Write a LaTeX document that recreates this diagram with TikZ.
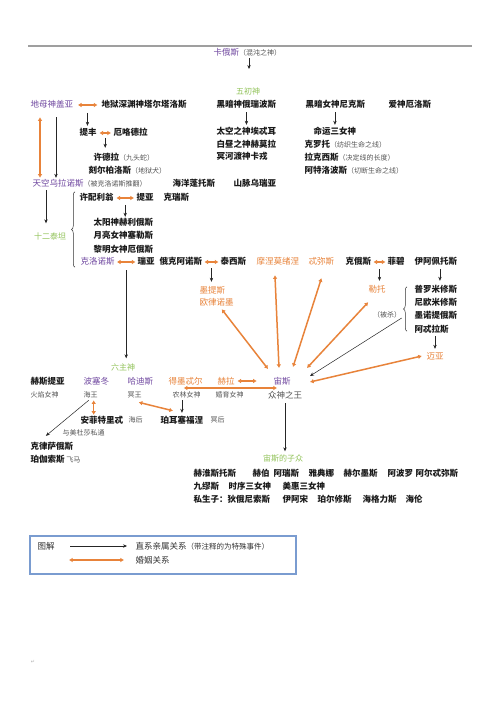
\documentclass[tikz,border=0pt]{standalone}
\usepackage{fontspec}
\setmainfont{Noto Sans CJK SC}
\newfontfamily\symfont{DejaVu Sans}
\usetikzlibrary{arrows.meta,decorations.pathreplacing}
\definecolor{gpurple}{HTML}{7048A0}
\definecolor{gorange}{HTML}{E8833A}
\definecolor{ggreen}{HTML}{92C35A}
\definecolor{nameblack}{HTML}{1A1A1A}
\definecolor{annogray}{HTML}{555555}
\definecolor{legblue}{HTML}{7A9CD0}
\newcommand\myanno[1]{{\fontsize{7}{8}\selectfont\mdseries\color{annogray}#1}}
\tikzset{
  base/.style={inner sep=0.5pt, anchor=west, font=\fontsize{8.5}{10}\selectfont, text height=7.5pt, text depth=1.5pt},
  nm/.style={base, font=\fontsize{8.5}{10}\selectfont\bfseries, text=nameblack},
  pnm/.style={base, text=gpurple},
  onm/.style={base, text=gorange},
  grn/.style={inner sep=0.5pt, anchor=center, font=\fontsize{8}{9}\selectfont, text=ggreen, text height=6.8pt, text depth=1.2pt},
  sub/.style={inner sep=0.5pt, anchor=west, font=\fontsize{7}{8}\selectfont, text=annogray, text height=6pt, text depth=1.2pt},
  kin/.style={draw=black!85, line width=0.5pt, -{Stealth[length=4pt,width=3.4pt]}},
  wed/.style={draw=gorange, line width=1.5pt, {Latex[length=3.6pt,width=4.6pt]}-{Latex[length=3.6pt,width=4.6pt]}},
  gap/.style={shorten <=#1, shorten >=#1}, gap/.default=2pt,
  bracepath/.style={draw=black!80, line width=0.5pt, decorate, decoration={brace, amplitude=3.5pt}}
}
\begin{document}
\begin{tikzpicture}[x=1pt,y=-1pt]
\useasboundingbox (0,0) rectangle (500,708);
\fill[white] (0,0) rectangle (500,708);
\draw[gray!75, line width=1.2pt] (28,46) -- (472,46);

% Chaos
\node[pnm] (chaos) at (213,53) {卡俄斯\myanno{（混沌之神）}};
\coordinate (chaosend) at (249,69);
\draw[kin] (chaos.south -| chaosend) -- (chaosend);
\node[grn] (wuchu) at (248,92) {五初神};

% primordials
\node[pnm] (gaia) at (30,105) {地母神盖亚};
\node[nm] (tartarus) at (101,105) {地狱深渊神塔尔塔洛斯};
\node[nm] (erebus) at (216,105) {黑暗神俄瑞波斯};
\node[nm] (nyx) at (305,105) {黑暗女神尼克斯};
\node[nm] (eros) at (388,105) {爱神厄洛斯};
\draw[wed, shorten <=4pt, shorten >=3.5pt] (gaia.east) -- (tartarus.west);
\path (gaia.east) -- coordinate[pos=.5] (m1) (tartarus.west);

\node[nm] (typhon) at (79,133) {提丰};
\node[nm] (echidna) at (113,133) {厄咯德拉};
\draw[kin, shorten >=2pt] ([shift={(0,8)}]m1) -- (m1 |- typhon.north);
\draw[wed, gap=2pt] (typhon.east) -- (echidna.west);
\path (typhon.east) -- coordinate[pos=.5] (m2) (echidna.west);
\node[nm] (hydra) at (93,158) {许德拉\myanno{（九头蛇）}};
\node[nm] (cerberus) at (88,171) {刻尔柏洛斯\myanno{（地狱犬）}};
\draw[kin, shorten >=5pt] ([shift={(0,5)}]m2) -- (m2 |- hydra.north);

\node[nm] (aether) at (216,132) {太空之神埃忒耳};
\node[nm] (hemera) at (216,144.5) {白昼之神赫莫拉};
\node[nm] (charon) at (216,157) {冥河渡神卡戎};
\draw[kin, gap=2pt] (erebus.south) -- (erebus.south |- aether.north);

\node[nm] (moirai) at (313,132) {命运三女神};
\node[nm] (clotho) at (304,144.5) {克罗托\myanno{（纺织生命之线）}};
\node[nm] (lachesis) at (304,158) {拉克西斯\myanno{（决定线的长度）}};
\node[nm] (atropos) at (304,171) {阿特洛波斯\myanno{（切断生命之线）}};
\draw[kin, gap=2pt] (nyx.south -| moirai.north) -- (moirai.north);

\node[pnm] (uranus) at (32,184) {天空乌拉诺斯\myanno{（被克洛诺斯推翻）}};
\node[nm] (pontus) at (172,184) {海洋蓬托斯};
\node[nm] (ourea) at (233,184) {山脉乌瑞亚};

\coordinate (gaO) at ([shift={(10,7)}]gaia.south west);
\coordinate (gaK) at ([shift={(26,7)}]gaia.south west);
\draw[wed, shorten >=1pt] (gaO) -- (gaO |- uranus.north);
\draw[kin, shorten >=1pt] (gaK) -- (gaK |- uranus.north);

\coordinate (urS) at ([shift={(14,1)}]uranus.south west);
\node[grn] (titans) at (50,237) {十二泰坦};
\draw[kin, shorten >=9pt] (urS) -- (urS |- titans.north);

% titans
\node[nm] (hyperion) at (79,198) {许配利翁};
\node[nm] (theia) at (136,198) {提亚};
\node[nm] (crius) at (163,198) {克瑞斯};
\draw[wed, gap=2pt] (hyperion.east) -- (theia.west);
\path (hyperion.east) -- coordinate[pos=.5] (m3) (theia.west);
\node[nm] (helios) at (93,223) {太阳神赫利俄斯};
\node[nm] (selene) at (93,236) {月亮女神塞勒斯};
\node[nm] (eos) at (93,249) {黎明女神厄俄斯};
\draw[kin, shorten >=1pt] ([shift={(0,7)}]m3) -- (m3 |- helios.north);

\node[pnm] (cronus) at (80,262) {克洛诺斯};
\node[nm] (rhea) at (137,262) {瑞亚};
\node[nm] (oceanus) at (159,262) {俄克阿诺斯};
\node[nm] (tethys) at (220,262) {泰西斯};
\node[onm] (mnemosyne) at (256,262) {摩涅莫绪涅};
\node[onm] (themis) at (308,262) {忒弥斯};
\node[nm] (coeus) at (345,262) {克俄斯};
\node[nm] (phoebe) at (387,262) {菲碧};
\node[nm] (iapetus) at (414,262) {伊阿佩托斯};
\draw[wed, gap=1.5pt] (cronus.east) -- (rhea.west);
\draw[wed, gap=1.5pt] (oceanus.east) -- (tethys.west);
\draw[wed, gap=1.5pt] (coeus.east) -- (phoebe.west);

\coordinate (brT) at ([shift={(-4,-1)}]hyperion.north west);
\draw[bracepath] (brT |- cronus.south) -- (brT);

\path (cronus.east) -- coordinate[pos=.5] (m4) (rhea.west);
\node[grn] (liuzhu) at (123,368) {六主神};
\draw[kin, shorten >=5pt] ([shift={(0,8)}]m4) -- (m4 |- liuzhu.north);

\path (oceanus.east) -- coordinate[pos=.5] (m5) (tethys.west);
\node[onm] (metis) at (199,290) {墨提斯};
\node[onm] (eurynome) at (199,302) {欧律诺墨};
\draw[kin, shorten >=3pt] ([shift={(0,6)}]m5) -- (m5 |- metis.north);

\path (coeus.east) -- coordinate[pos=.5] (m6) (phoebe.west);
\node[onm] (leto) at (368,289) {勒托};
\draw[kin, shorten >=3pt] ([shift={(0,7)}]m6) -- (m6 |- leto.north);

\node[nm] (prometheus) at (414,289) {普罗米修斯};
\node[nm] (epimetheus) at (414,302) {尼欧米修斯};
\node[nm] (menoetius) at (414,315) {墨诺提俄斯};
\node[nm] (atlas) at (414,329) {阿忒拉斯};
\coordinate (iaS) at ([shift={(4,2)}]iapetus.south);
\draw[kin, shorten >=3pt] (iaS) -- (iaS |- prometheus.north);
\coordinate (br2t) at ([shift={(-7,3)}]prometheus.north west);
\coordinate (br2b) at ([shift={(-7,-3)}]atlas.south west);
\draw[bracepath] (br2b) -- (br2b |- br2t);
\node[sub, anchor=center] (killed) at (387,315) {（被杀）};
\node[onm, anchor=center] (maia) at (435,356) {迈亚};
\draw[kin, gap=2pt] (atlas.south -| maia.north) -- (maia.north);

% six gods
\node[nm] (hestia) at (30,381) {赫斯提亚};
\node[pnm] (poseidon) at (83,381) {波塞冬};
\node[pnm] (hades) at (127,381) {哈迪斯};
\node[onm] (demeter) at (168,381) {得墨忒尔};
\node[onm] (hera) at (217,381) {赫拉};
\node[pnm, anchor=center] (zeus) at (282,381) {宙斯};
\node[sub] (huoyan) at (30,395) {火焰女神};
\node[sub] (haiwang) at (83,395) {海王};
\node[sub] (mingwang) at (127,395) {冥王};
\node[sub] (nonglin) at (172,395) {农林女神};
\node[sub] (hunyu) at (215,395) {婚育女神};
\node[sub, anchor=center, font=\fontsize{8.5}{10}\selectfont, text height=7.5pt, text depth=1.5pt] (zhongshen) at (285,395) {众神之王};

\draw[wed, shorten <=2pt, shorten >=16pt] (hera.east) -- (zeus.west);
\draw[wed] ([shift={(-2,7)}]demeter.center) -- ([shift={(-5,7)}]zeus.center);
\draw[wed] ([shift={(5,2)}]eurynome.south) -- ([shift={(-14,-12)}]zeus.center);
\draw[wed] ([shift={(-3,8)}]mnemosyne.south) -- ([shift={(-3,-13)}]zeus.center);
\draw[wed] ([shift={(0,11)}]themis.south) -- ([shift={(11,-14)}]zeus.center);
\draw[wed] ([shift={(-9,8)}]leto.south) -- ([shift={(25,-13)}]zeus.center);
\draw[wed] ([shift={(-4,0)}]maia.west) -- ([shift={(28,1)}]zeus.center);
\draw[kin] ([shift={(0,3)}]killed.east) -- ([shift={(28,-5)}]zeus.center);

\node[nm] (amphi) at (80,420) {安菲特里忒};
\node[sub] (haihou) at (128,420) {海后};
\node[nm] (persephone) at (160,420) {珀耳塞福涅};
\node[sub] (minghou) at (210,420) {冥后};
\node[sub] (medusa) at (62,433) {与美杜莎私通};
\node[nm] (chrysaor) at (30,446) {克律萨俄斯};
\node[nm] (pegasus) at (30,459) {珀伽索斯\myanno{\ 飞马}};

\coordinate (hwA) at ([shift={(3,1)}]haiwang.south);
\draw[wed] (hwA) -- (hwA |- amphi.north);
\draw[kin] ([shift={(-2,1)}]haiwang.south) -- ([shift={(-6,-5)}]chrysaor.north);
\draw[wed] ([shift={(4,3)}]mingwang.south) -- ([shift={(-9,-4)}]persephone.north);
\draw[kin, shorten <=1pt, shorten >=2pt] (nonglin.south -| persephone.north) -- (persephone.north);

% children of Zeus
\node[grn] (zichildren) at (283,459) {宙斯的子众};
\draw[kin, gap=3pt] (zhongshen.south) -- (zhongshen.south |- zichildren.north);
\node[nm] (c1) at (193,473) {赫淮斯托斯};
\node[nm] (c2) at (252,473) {赫伯};
\node[nm] (c3) at (273,473) {阿瑞斯};
\node[nm] (c4) at (308,473) {雅典娜};
\node[nm] (c5) at (343,473) {赫尔墨斯};
\node[nm] (c6) at (387,473) {阿波罗};
\node[nm] (c7) at (415,473) {阿尔忒弥斯};
\node[nm] (c8) at (193,486) {九缪斯};
\node[nm] (c9) at (228,486) {时序三女神};
\node[nm] (c10) at (282,486) {美惠三女神};
\node[nm] (c11) at (193,499) {私生子：狄俄尼索斯};
\node[nm] (c12) at (282,499) {伊阿宋};
\node[nm] (c13) at (317,499) {珀尔修斯};
\node[nm] (c14) at (362,499) {海格力斯};
\node[nm] (c15) at (405,499) {海伦};

% legend
\draw[legblue, line width=1.2pt] (30,536) rectangle (296,574);
\node[base, text=black!80] (tujie) at (37,546) {图解};
\node[base, text=black!80] (leg1) at (135,546) {直系亲属关系{\fontsize{7.5}{9}\selectfont （带注释的为特殊事件）}};
\node[base, text=black!80] (leg2) at (135,560) {婚姻关系};
\draw[kin] ([shift={(-65,0)}]leg1.west) -- ([shift={(-8,0)}]leg1.west);
\draw[wed] ([shift={(-66,0)}]leg2.west) -- ([shift={(-11,0)}]leg2.west);

\node[inner sep=0pt, text=gray!60, font=\symfont\fontsize{5}{6}\selectfont] (pmark) at (33,662) {↵};
\end{tikzpicture}
\end{document}
